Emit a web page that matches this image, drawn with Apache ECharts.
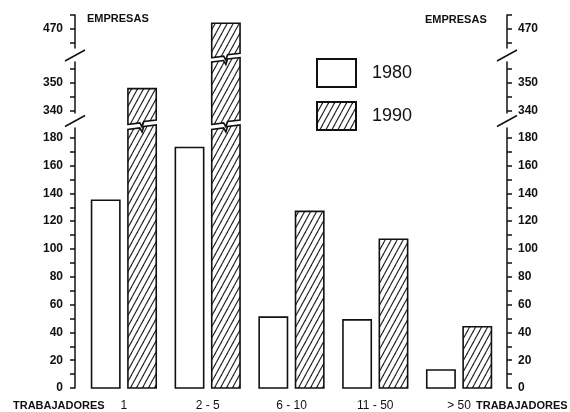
<!DOCTYPE html>
<html>
<head>
<meta charset="utf-8">
<script src="https://cdn.jsdelivr.net/npm/echarts@6/dist/echarts.min.js"></script>
<style>
  html, body { margin: 0; padding: 0; background: #fff; }
  #chart { width: 570px; height: 412px; }
</style>
</head>
<body>
<div id="chart"></div>
<script>
// datos
var categories = ['1', '2 - 5', '6 - 10', '11 - 50', '> 50'];
var empresas1980 = [135, 173, 51, 49, 13];
var empresas1990 = [348, 472, 127, 107, 44];

var lowTickLabels = [0, 20, 40, 60, 80, 100, 120, 140, 160, 180];
var lowTickMarks = [0, 10, 20, 30, 40, 50, 60, 70, 80, 90, 100, 110, 120, 130, 140, 150, 160, 170, 180];
var midTickLabels = [340, 350];
var midTickMarks = [340, 345, 350, 355];
var topTickLabels = [470];
var topTickMarks = [465, 470, 475];

var INK = '#111';
var FONT = '"Liberation Sans", Arial, sans-serif';
var GRID_LEFT = 82, GRID_RIGHT = 69;
var OFF_L = 7, OFF_R = 6;
var BAR_W = 0.338, BAR_SHIFT = 0.217;
// forma del corte (t a lo ancho de la barra, desplazamiento vertical)
var ZIG = [[0, 2], [0.42, 0.5], [0.5, 4.5], [0.56, -1], [1, -2.5]];

// tramos del eje (abajo -> arriba)
var panels = [
    {top: 128, height: 260, min: 0, max: 187, labels: lowTickLabels, ticks: lowTickMarks, cutTop: 187.4},
    {top: 62, height: 51, min: 339.2, max: 357.6, labels: midTickLabels, ticks: midTickMarks, cutBottom: 335.8, cutTop: 358.3},
    {top: 15, height: 33, min: 463, max: 475, labels: topTickLabels, ticks: topTickMarks, cutBottom: 460.2}
];

function makeHatch()
{
    var w = 6, h = 11;
    var cv = document.createElement('canvas');
    cv.width = w;
    cv.height = h;
    var ctx = cv.getContext('2d');
    ctx.fillStyle = '#fff';
    ctx.fillRect(0, 0, w, h);
    ctx.strokeStyle = '#222';
    ctx.lineWidth = 1.1;
    [-w, 0, w].forEach(function (dx)
    {
        [-h, 0, h].forEach(function (dy)
        {
            ctx.beginPath();
            ctx.moveTo(dx, dy + h);
            ctx.lineTo(dx + w, dy);
            ctx.stroke();
        });
    });
    return {image: cv, repeat: 'repeat'};
}
var hatch = makeHatch();

function barRenderer(panel, side, fill)
{
    return function (params, api)
    {
        var idx = api.value(0), v = api.value(1);
        if (panel.cutBottom != null && v <= panel.min) return null;
        var band = api.size([1, 0])[0];
        var xc = api.coord([idx, panel.min])[0] + side * band * BAR_SHIFT;
        var w = band * BAR_W, x0 = xc - w / 2, x1 = xc + w / 2;
        var pts = [];
        if (panel.cutBottom != null) {
            var yb = api.coord([idx, panel.cutBottom])[1];
            ZIG.forEach(function (z) { pts.push([x0 + z[0] * w, yb + z[1]]); });
        } else {
            var y0 = api.coord([idx, 0])[1];
            pts.push([x0, y0], [x1, y0]);
        }
        if (panel.cutTop != null && v > panel.max) {
            var yc = api.coord([idx, panel.cutTop])[1];
            ZIG.slice().reverse().forEach(function (z) { pts.push([x0 + z[0] * w, yc + z[1]]); });
        } else {
            var yt = api.coord([idx, v])[1];
            pts.push([x1, yt], [x0, yt]);
        }
        return {
            type: 'polygon',
            shape: {points: pts},
            style: {fill: fill, stroke: INK, lineWidth: 1.6, lineJoin: 'miter'}
        };
    };
}

function yAxisFor(p, i, position)
{
    return {
        type: 'value',
        gridIndex: i,
        position: position,
        offset: position === 'left' ? OFF_L : OFF_R,
        min: p.min,
        max: p.max,
        splitLine: {show: false},
        axisLine: {show: true, lineStyle: {color: INK, width: 1.5}},
        axisTick: {show: true, length: 5, customValues: p.ticks, lineStyle: {color: INK, width: 1.5}},
        axisLabel: {
            customValues: p.labels,
            margin: position === 'left' ? 12 : 11,
            color: INK,
            fontSize: 12,
            fontWeight: 'bold',
            fontFamily: FONT
        }
    };
}

var grids = [], xAxes = [], yAxes = [], series = [];
panels.forEach(function (p, i)
{
    grids.push({left: GRID_LEFT, right: GRID_RIGHT, top: p.top, height: p.height});
    xAxes.push({
        type: 'category',
        gridIndex: i,
        data: categories,
        show: i === 0,
        axisLine: {show: false},
        axisTick: {show: false},
        axisLabel: {margin: 12, color: INK, fontSize: 12, fontFamily: FONT}
    });
    yAxes.push(yAxisFor(p, i, 'left'), yAxisFor(p, i, 'right'));
    if (i === 0) {
        series.push({
            name: '1980',
            type: 'custom',
            xAxisIndex: i,
            yAxisIndex: 2 * i,
            itemStyle: {color: '#fff'},
            renderItem: barRenderer(p, -1, '#fff'),
            encode: {x: 0, y: 1},
            data: empresas1980.map(function (v, k) { return [k, v]; })
        });
    }
    series.push({
        name: '1990',
        type: 'custom',
        xAxisIndex: i,
        yAxisIndex: 2 * i,
        itemStyle: {color: hatch},
        renderItem: barRenderer(p, 1, hatch),
        encode: {x: 0, y: 1},
        data: empresas1990.map(function (v, k) { return [k, v]; })
    });
});

// marcas de corte del eje y rotulos
var graphics = [];
var axisXs = [GRID_LEFT - OFF_L, 570 - GRID_RIGHT + OFF_R];
for (var k = 0; k < panels.length - 1; k++) {
    var yc = (panels[k + 1].top + panels[k + 1].height + panels[k].top) / 2 + 0.5;
    axisXs.forEach(function (ax)
    {
        graphics.push({
            type: 'line',
            shape: {x1: ax - 10, y1: yc + 5.5, x2: ax + 10, y2: yc - 5.5},
            style: {stroke: INK, lineWidth: 1.5}
        });
    });
}
function label(text, x, y)
{
    return {
        type: 'text',
        style: {text: text, x: x, y: y, fill: INK, font: 'bold 11px ' + FONT, verticalAlign: 'middle'}
    };
}
graphics.push(
    label('EMPRESAS', 87, 19),
    label('EMPRESAS', 425, 20),
    label('TRABAJADORES', 13, 406),
    label('TRABAJADORES', 476, 406)
);

var myChart = echarts.init(document.getElementById('chart'));
var option = {
    animation: false,
    backgroundColor: '#fff',
    legend: {
        orient: 'vertical',
        left: 316,
        top: 58,
        padding: 0,
        icon: 'rect',
        itemWidth: 39,
        itemHeight: 28,
        itemGap: 13,
        selectedMode: false,
        textStyle: {fontSize: 18, color: INK, fontFamily: FONT, padding: [0, 0, 0, 11]},
        data: [
            {name: '1980', itemStyle: {color: '#fff', borderColor: INK, borderWidth: 2}},
            {name: '1990', itemStyle: {color: hatch, borderColor: INK, borderWidth: 2}}
        ]
    },
    grid: grids,
    xAxis: xAxes,
    yAxis: yAxes,
    series: series,
    graphic: graphics
};
myChart.setOption(option);
</script>
</body>
</html>
